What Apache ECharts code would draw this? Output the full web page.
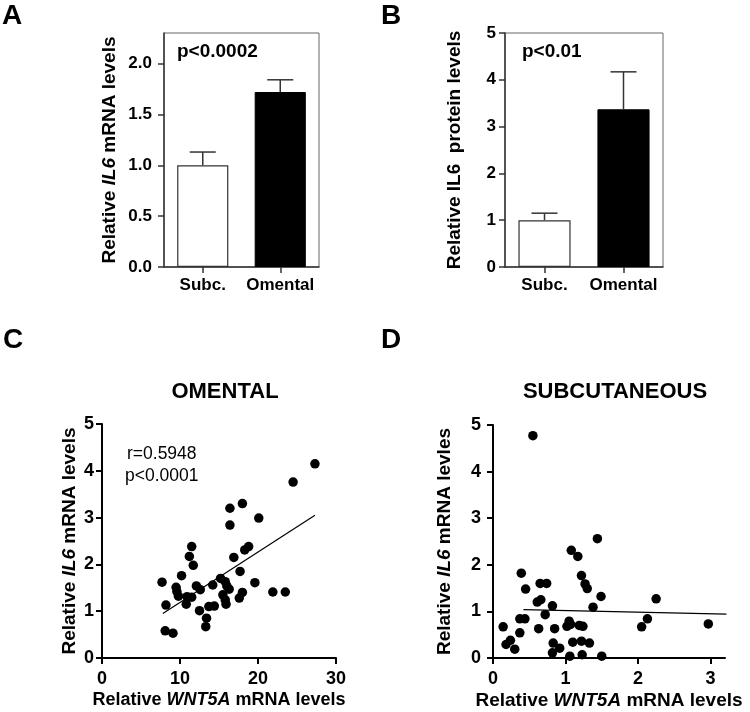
<!DOCTYPE html>
<html>
<head>
<meta charset="utf-8">
<script src="https://cdn.jsdelivr.net/npm/echarts@6/dist/echarts.min.js"></script>
<style>html,body{margin:0;padding:0;background:#fff}#c{width:750px;height:712px}</style>
</head>
<body>
<div id="c"></div>
<script>
// ---- data ----
const categories = ['Subc.', 'Omental'];
const mrnaMean = [1.0, 1.72];
const mrnaSem = [0.13, 0.12];
const proteinMean = [1.0, 3.37];
const proteinSem = [0.15, 0.80];

const omentalWnt5a = [27.3,24.5,18.0,16.4,16.4,20.1,11.5,11.2,11.7,18.8,18.3,16.9,17.7,10.2,7.7,9.5,9.6,9.8,8.2,10.9,10.8,11.5,12.1,12.6,12.5,13.4,13.3,13.7,14.4,14.2,15.2,15.8,15.5,15.8,15.9,16.3,17.6,18.0,19.6,21.9,23.5,8.1,9.1,16.0];
const omentalIl6   = [4.15,3.76,3.30,3.20,2.84,2.99,2.38,2.17,1.98,2.38,2.31,2.15,1.85,1.76,1.62,1.51,1.42,1.32,1.13,1.31,1.15,1.30,1.54,1.46,1.01,0.85,0.67,1.10,1.11,1.56,1.70,1.63,1.35,1.24,1.15,1.47,1.28,1.40,1.61,1.41,1.41,0.58,0.53,1.54];
const omentalFitX = [7.8, 27.3];
const omentalFitY = [0.95, 3.05];

const subcWnt5a = [0.55,1.44,1.08,1.17,1.22,1.27,1.30,1.49,1.38,0.39,0.45,0.65,0.74,0.61,0.66,0.82,0.72,0.37,0.44,0.14,0.37,0.18,0.24,0.30,0.63,0.85,0.83,0.92,0.82,1.05,1.07,1.02,1.19,1.24,1.10,1.22,1.33,1.06,1.23,1.50,2.05,2.13,2.25,2.97];
const subcIl6   = [4.77,2.56,2.31,2.18,1.77,1.59,1.49,1.32,1.09,1.82,1.48,1.60,1.60,1.20,1.25,1.12,0.93,0.84,0.84,0.67,0.54,0.29,0.38,0.19,0.63,0.63,0.32,0.21,0.11,0.79,0.72,0.68,0.70,0.68,0.34,0.36,0.32,0.04,0.07,0.04,0.67,0.84,1.27,0.73];
const subcFitX = [0.42, 3.22];
const subcFitY = [1.04, 0.94];

const yTicksA = [0, 0.5, 1.0, 1.5, 2.0];
const yTicksB = [0, 1, 2, 3, 4, 5];
const xTicksC = [0, 10, 20, 30];
const xTicksD = [0, 1, 2, 3];
const yTicksCD = [0, 1, 2, 3, 4, 5];

// ---- chart ----
const FF = "'Liberation Sans', Arial, Helvetica, sans-serif";
const zip = (a, b) => a.map((v, i) => [v, b[i]]);

function barAxisY(idx, max, ticks, name, gap, margin, decimals, rich) {
  return {
    type: 'value', gridIndex: idx, min: 0, max: max,
    splitLine: {show: false},
    axisLine: {show: true, lineStyle: {color: '#333', width: 1.5}},
    axisTick: {show: true, length: 6, lineStyle: {color: '#333', width: 1.5}, customValues: ticks},
    axisLabel: {customValues: ticks, margin: margin, fontSize: 17, fontWeight: 'bold', fontFamily: FF, color: '#000',
      formatter: v => v.toFixed(decimals)},
    name: name, nameLocation: 'middle', nameGap: gap,
    nameTextStyle: {fontSize: 19, fontWeight: 'bold', fontFamily: FF, color: '#000', rich: rich || {}}
  };
}
function barAxisX(idx) {
  return {
    type: 'category', gridIndex: idx, data: categories,
    axisLine: {show: true, lineStyle: {color: '#333', width: 1.5}},
    axisTick: {show: true, alignWithLabel: true, interval: 0, length: 6, lineStyle: {color: '#333', width: 1.5}},
    axisLabel: {interval: 0, hideOverlap: false, margin: 10, fontSize: 17, fontWeight: 'bold', fontFamily: FF, color: '#000'}
  };
}
function scatterAxis(idx, kind, max, ticks, name, gap, margin, fs, rich) {
  return {
    type: 'value', gridIndex: idx, min: 0, max: max,
    splitLine: {show: false},
    axisLine: {show: true, lineStyle: {color: '#000', width: 2}},
    axisTick: {show: true, length: 6, customValues: ticks, lineStyle: {color: '#000', width: 2}},
    axisLabel: {customValues: ticks, margin: margin, fontSize: 18, fontWeight: 'bold', fontFamily: FF, color: '#000'},
    name: name, nameLocation: 'middle', nameGap: gap,
    nameTextStyle: {fontSize: fs, fontWeight: 'bold', fontFamily: FF, color: '#000', rich: rich}
  };
}
const italicRich = fs => ({i: {fontStyle: 'italic', fontWeight: 'bold', fontSize: fs, fontFamily: FF, color: '#000'},
                            b: {fontWeight: 'bold', fontSize: fs, fontFamily: FF, color: '#000'}});

function errRender(params, api) {
  const x = api.value(0), m = api.value(1), e = api.value(2);
  const p0 = api.coord([x, m]);
  const p1 = api.coord([x, m + e]);
  const half = 13;
  const st = {stroke: '#333', lineWidth: 1.5};
  return {type: 'group', children: [
    {type: 'line', shape: {x1: p0[0], y1: p0[1], x2: p1[0], y2: p1[1]}, style: st},
    {type: 'line', shape: {x1: p1[0] - half, y1: p1[1], x2: p1[0] + half, y2: p1[1]}, style: st}
  ]};
}

const barColors = [{color: '#fff', borderColor: '#333', borderWidth: 1.2}, {color: '#000', borderColor: '#000', borderWidth: 1}];

const txt = (x, y, text, fs, weight, align) => ({type: 'text', x: x, y: y, z: 100,
  style: {text: text, fontSize: fs, fontWeight: weight, fontFamily: FF, fill: '#000', align: align || 'left', verticalAlign: 'middle'}});

const option = {
  animation: false,
  backgroundColor: '#fff',
  grid: [
    {left: 164, top: 33, width: 155, height: 234, show: true, borderColor: '#666', borderWidth: 1, backgroundColor: 'transparent', outerBoundsMode: 'none'},
    {left: 505, top: 33, width: 158, height: 234, show: true, borderColor: '#666', borderWidth: 1, backgroundColor: 'transparent', outerBoundsMode: 'none'},
    {left: 102, top: 424, width: 234, height: 234, outerBoundsMode: 'none'},
    {left: 493, top: 425, width: 232, height: 233, outerBoundsMode: 'none'}
  ],
  xAxis: [
    barAxisX(0), barAxisX(1),
    scatterAxis(2, 'x', 30, xTicksC, '{b|Relative }{i|WNT5A}{b| mRNA levels}', 33, 12, 18, italicRich(18)),
    scatterAxis(3, 'x', 3.2, xTicksD, '{b|Relative }{i|WNT5A}{b| mRNA levels}', 33, 12, 19, italicRich(19))
  ],
  yAxis: [
    barAxisY(0, 2.3, yTicksA, '{b|Relative }{i|IL6}{b| mRNA levels}', 45, 12, 1, italicRich(19)),
    barAxisY(1, 5, yTicksB, 'Relative IL6  protein levels', 41, 9, 0),
    scatterAxis(2, 'y', 5, yTicksCD, '{b|Relative }{i|IL6}{b| mRNA levels}', 23, 8, 19, italicRich(19)),
    scatterAxis(3, 'y', 5, yTicksCD, '{b|Relative }{i|IL6}{b| mRNA levles}', 39, 12, 19, italicRich(19))
  ],
  series: [
    {type: 'bar', xAxisIndex: 0, yAxisIndex: 0, barWidth: '66%',
      data: mrnaMean.map((v, i) => ({value: v, itemStyle: barColors[i]}))},
    {type: 'custom', xAxisIndex: 0, yAxisIndex: 0, z: 5, renderItem: errRender,
      data: mrnaMean.map((v, i) => [i, v, mrnaSem[i]])},
    {type: 'bar', xAxisIndex: 1, yAxisIndex: 1, barWidth: '66%',
      data: proteinMean.map((v, i) => ({value: v, itemStyle: barColors[i]}))},
    {type: 'custom', xAxisIndex: 1, yAxisIndex: 1, z: 5, renderItem: errRender,
      data: proteinMean.map((v, i) => [i, v, proteinSem[i]])},
    {type: 'scatter', xAxisIndex: 2, yAxisIndex: 2, symbolSize: 9.5, itemStyle: {color: '#000', opacity: 1},
      data: zip(omentalWnt5a, omentalIl6)},
    {type: 'line', xAxisIndex: 2, yAxisIndex: 2, symbol: 'none', lineStyle: {color: '#000', width: 1.2},
      data: zip(omentalFitX, omentalFitY)},
    {type: 'scatter', xAxisIndex: 3, yAxisIndex: 3, symbolSize: 9.5, itemStyle: {color: '#000', opacity: 1},
      data: zip(subcWnt5a, subcIl6)},
    {type: 'line', xAxisIndex: 3, yAxisIndex: 3, symbol: 'none', lineStyle: {color: '#000', width: 1.2},
      data: zip(subcFitX, subcFitY)}
  ],
  graphic: [
    txt(2, 16, 'A', 28, 'bold'),
    txt(381, 16, 'B', 28, 'bold'),
    txt(3, 340, 'C', 28, 'bold'),
    txt(381, 340, 'D', 28, 'bold'),
    txt(177, 52, 'p<0.0002', 19, 'bold'),
    txt(522, 52, 'p<0.01', 19, 'bold'),
    txt(225, 392, 'OMENTAL', 22, 'bold', 'center'),
    txt(615, 392, 'SUBCUTANEOUS', 22, 'bold', 'center'),
    txt(127, 454, 'r=0.5948', 17.5, 'normal'),
    txt(125, 476, 'p<0.0001', 17.5, 'normal')
  ]
};
const chart = echarts.init(document.getElementById('c'), null, {renderer: 'canvas'});
chart.setOption(option);
</script>
</body>
</html>
